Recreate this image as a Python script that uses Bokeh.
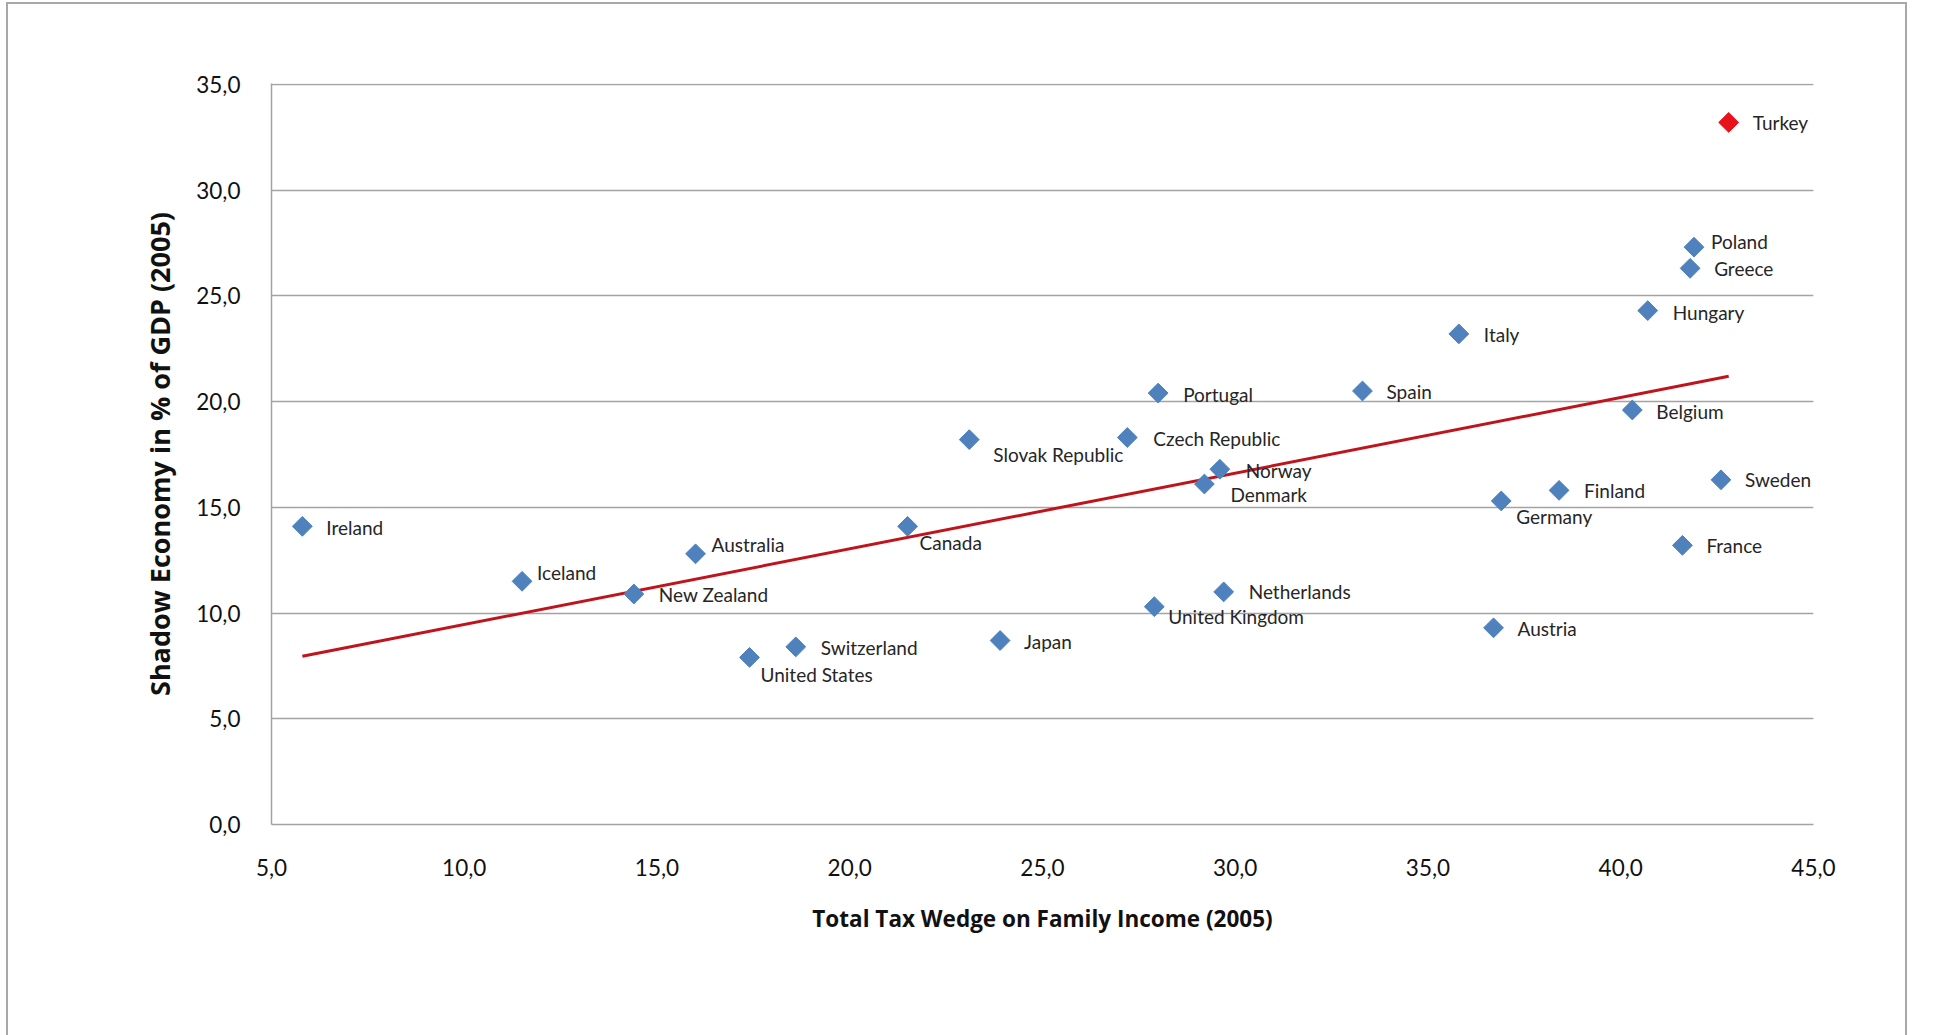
import numpy as np
from bokeh.plotting import figure
from bokeh.models import (ColumnDataSource, CustomJSTickFormatter, FixedTicker,
                          Range1d, InlineStyleSheet)
from bokeh.core.properties import value
from bokeh.embed import file_html
from bokeh.resources import INLINE

# Shadow economy vs. total tax wedge, OECD countries, 2005
countries = ["Turkey", "Poland", "Greece", "Hungary", "Italy", "Spain", "Portugal",
             "Belgium", "Slovak Republic", "Czech Republic", "Norway", "Denmark",
             "Sweden", "Finland", "Germany", "Ireland", "Canada", "France",
             "Australia", "Iceland", "New Zealand", "Netherlands", "United Kingdom",
             "Austria", "Japan", "Switzerland", "United States"]
tax_wedge = [42.8, 41.9, 41.8, 40.7, 35.8, 33.3, 28.0,
             40.3, 23.1, 27.2, 29.6, 29.2,
             42.6, 38.4, 36.9, 5.8, 21.5, 41.6,
             16.0, 11.5, 14.4, 29.7, 27.9,
             36.7, 23.9, 18.6, 17.4]
shadow_economy = [33.2, 27.3, 26.3, 24.3, 23.2, 20.5, 20.4,
                  19.6, 18.2, 18.3, 16.8, 16.1,
                  16.3, 15.8, 15.3, 14.1, 14.1, 13.2,
                  12.8, 11.5, 10.9, 11.0, 10.3,
                  9.3, 8.7, 8.4, 7.9]
highlighted = ["Turkey"]

x_ticks = [5, 10, 15, 20, 25, 30, 35, 40, 45]
y_ticks = [0, 5, 10, 15, 20, 25, 30, 35]

# label placement relative to each marker (screen px, right / down)
label_dx = [24, 17, 24, 25, 25, 24, 25, 24, 24, 26, 26, 26, 24, 25, 15, 24, 12, 24,
            16, 15, 25, 25, 14, 24, 24, 25, 11]
label_dy = [0, -6, 0, 2, 1, 1, 1, 1, 15, 1, 1, 10, 0, 0, 16, 1, 16, 0,
            -9, -9, 1, 0, 10, 1, 1, 1, 17]

W, H = 1957, 1035
GREY = "#a3a3a3"
BLUE = "#4f81bd"
RED = "#e8121c"
TREND = "#c0141c"

colors = [RED if c in highlighted else BLUE for c in countries]
src = ColumnDataSource(dict(x=tax_wedge, y=shadow_economy, name=countries,
                            color=colors, dx=label_dx, dy=label_dy))

# thin grey frame around the whole chart area
frame_css = InlineStyleSheet(css="""
:host::after {
  content: "";
  position: absolute;
  left: 6px;
  top: 2px;
  width: 1901px;
  height: 1033px;
  box-sizing: border-box;
  border: 2px solid #a8a8a8;
  border-bottom: none;
  pointer-events: none;
}
""")

p = figure(width=W, height=H, output_backend="svg", toolbar_location=None,
           x_range=Range1d(5, 45), y_range=Range1d(0, 35.04),
           min_border_left=271, min_border_right=W - 1813,
           min_border_top=83, min_border_bottom=H - 824)
p.stylesheets = [frame_css]
p.outline_line_color = None
p.background_fill_color = "white"
p.border_fill_color = "white"

fmt = CustomJSTickFormatter(code="return tick.toFixed(1).replace('.', ',');")

p.xaxis.ticker = FixedTicker(ticks=x_ticks)
p.yaxis.ticker = FixedTicker(ticks=y_ticks)
for ax in (p.xaxis, p.yaxis):
    ax.formatter = fmt
    ax.major_tick_line_color = None
    ax.minor_tick_line_color = None
    ax.axis_line_color = GREY
    ax.axis_line_width = 1.5
    ax.major_label_text_font = "Lato"
    ax.major_label_text_font_size = "22.5px"
    ax.major_label_text_color = "#111111"
    ax.axis_label_text_font = "Open Sans"
    ax.axis_label_text_font_style = "bold"
    ax.axis_label_text_color = "#111111"

p.xaxis.axis_label = "Total Tax Wedge on Family Income (2005)"
p.xaxis.axis_label_text_font_size = "22.5px"
p.xaxis.major_label_standoff = 28
p.xaxis.axis_label_standoff = 24

p.yaxis.axis_label = "Shadow Economy in % of GDP (2005)"
p.yaxis.axis_label_text_font_size = "27px"
p.yaxis.major_label_standoff = 25
p.yaxis.axis_label_standoff = 15

p.xgrid.grid_line_color = None
p.ygrid.grid_line_color = GREY
p.ygrid.grid_line_width = 1.5

# least-squares trend line across all countries
xs = np.array(tax_wedge)
ys = np.array(shadow_economy)
slope, intercept = np.polyfit(xs, ys, 1)
tx = np.array([xs.min(), xs.max()])
p.line(tx, slope * tx + intercept, line_color=TREND, line_width=3)

p.scatter("x", "y", source=src, marker="square", size=14, angle=np.pi / 4,
          fill_color="color", line_color="color", line_width=1)

p.text("x", "y", text="name", source=src, x_offset="dx", y_offset="dy",
       text_align="left", text_baseline="middle", text_font=value("Lato"),
       text_font_size="19px", text_color="#262626")

open("out.html", "w").write(file_html(p, INLINE))
